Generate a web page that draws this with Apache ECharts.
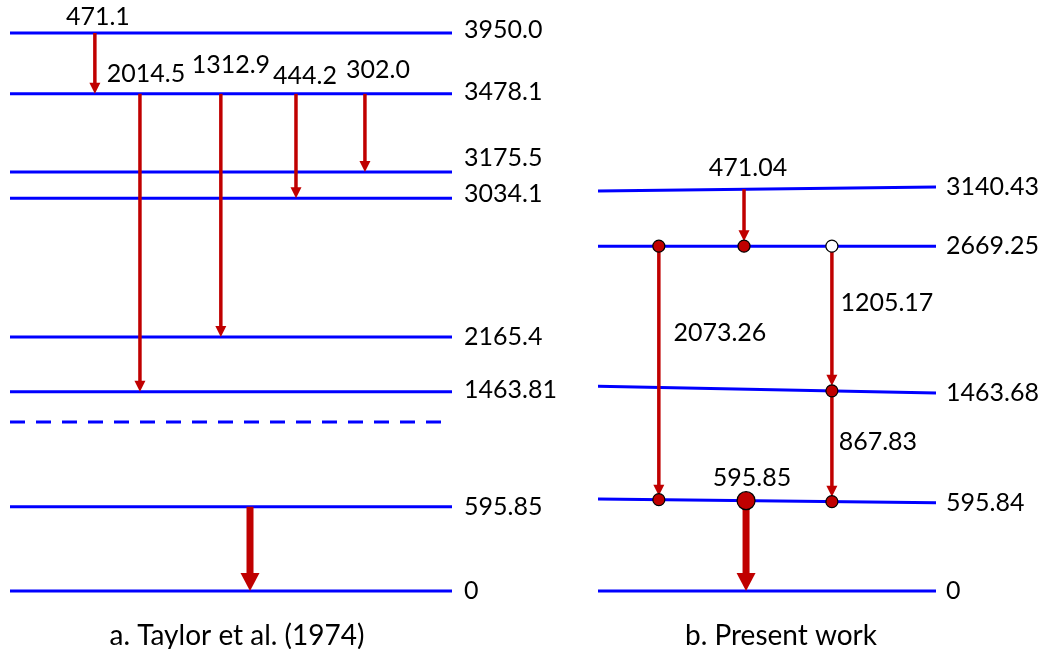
<!DOCTYPE html>
<html>
<head>
<meta charset="utf-8">
<title>Level schemes</title>
<script src="https://cdn.jsdelivr.net/npm/echarts@6/dist/echarts.min.js"></script>
<style>
  html, body { margin: 0; padding: 0; background: #fff; }
  #chart { width: 1042px; height: 649px; }
</style>
</head>
<body>
<div id="chart"></div>
<script>
// Heights are schematic positions (0 = ground line, 100 = top line),
// not energies; the energies are the labels.

// a. Taylor et al. (1974)
const levelsA = ['3950.0', '3478.1', '3175.5', '3034.1', '2165.4', '1463.81', '595.85', '0'];
const levelsAHeight = [100, 89.1, 75.1, 70.4, 45.5, 35.7, 15.1, 0];
const dashedLevelAHeight = 30.3;
const gammasA = ['471.1', '2014.5', '1312.9', '444.2', '302.0', ''];
const gammasAFrom = [0, 1, 1, 1, 1, 6];   // index into levelsA
const gammasATo = [1, 5, 4, 3, 2, 7];
const gammasAPos = [19.2, 29.4, 47.7, 64.7, 80.3, 54.3];  // along the level, 0..100

// b. Present work (levels slightly tilted: height at left end / right end)
const levelsB = ['3140.43', '2669.25', '1463.68', '595.84', '0'];
const levelsBLeft = [71.7, 61.8, 36.7, 16.5, 0];
const levelsBRight = [72.4, 61.8, 35.5, 15.8, 0];
const gammasB = ['471.04', '2073.26', '1205.17', '867.83', '595.85'];
const gammasBFrom = [0, 1, 1, 2, 3];
const gammasBTo = [1, 3, 2, 3, 4];
const gammasBPos = [43.2, 18.0, 69.2, 69.2, 43.8];
const dotsBLevel = [1, 1, 1, 2, 3, 3, 3];
const dotsBPos = [18.0, 43.2, 69.2, 69.2, 18.0, 43.8, 69.2];
const dotsBKind = ['filled', 'filled', 'open', 'filled', 'filled', 'main', 'filled'];

// ---- styles ----
const BLUE = '#0000ff';
const RED = '#c00000';
const FONT_FAMILY = 'Lato, "Open Sans", sans-serif';
const FONT = '25px ' + FONT_FAMILY;
// vertical nudge (px) of the energy labels, so 3175.5 / 3034.1 don't collide
const levelLabelShiftA = [-3, -2, -14, -4, 0, -2, 0, 0, 0];
const levelLabelShiftB = [0, 0, 0, 0, 0];
// label offsets (px) from the start point of each arrow
const labelOffsetA = [[3, -16], [6, -20], [10, -29], [9, -18], [13, -24], [0, 0]];
const labelOffsetB = [[4, -21], [61, 87], [55, 57], [46, 51], [6, -23]];
const thickA = [false, false, false, false, false, true];
const thickB = [false, false, false, false, true];
const tipGapB = [5, 4, 5, 5, 0];   // arrows stopping on a dot

const chart = echarts.init(document.getElementById('chart'));

function heightB(level, pos) {
    return levelsBLeft[level] + (levelsBRight[level] - levelsBLeft[level]) * pos / 100;
}

// level lines with energy label on the right
function levelSeries(axis, left, right, labels, dashed, labelGap, labelShift) {
    return {
        type: 'custom',
        xAxisIndex: axis,
        yAxisIndex: axis,
        z: 1,
        silent: true,
        data: left.map((h, i) => [h, right[i]]),
        renderItem: (params, api) => {
            const i = params.dataIndex;
            const p1 = api.coord([0, api.value(0)]);
            const p2 = api.coord([100, api.value(1)]);
            const children = [{
                type: 'line',
                shape: { x1: p1[0], y1: p1[1], x2: p2[0], y2: p2[1] },
                style: { stroke: BLUE, lineWidth: 3, lineDash: dashed[i] ? [15, 11] : null }
            }];
            if (labels[i]) {
                children.push({
                    type: 'text',
                    x: p2[0] + labelGap,
                    y: p2[1] + labelShift[i],
                    style: { text: labels[i], font: FONT, fill: '#000', align: 'left', verticalAlign: 'middle' }
                });
            }
            return { type: 'group', children };
        }
    };
}

// gamma transitions as downward arrows
function arrowSeries(axis, items, labels, offsets, thick, tipGap) {
    return {
        type: 'custom',
        xAxisIndex: axis,
        yAxisIndex: axis,
        z: 2,
        silent: true,
        data: items,
        renderItem: (params, api) => {
            const i = params.dataIndex;
            const x = api.value(0);
            const p1 = api.coord([x, api.value(1)]);
            const p2 = api.coord([x, api.value(2)]);
            const tipY = p2[1] - tipGap[i];
            const hw = thick[i] ? 9.5 : 5.5;
            const hl = thick[i] ? 18 : 11;
            const children = [
                {
                    type: 'line',
                    shape: { x1: p1[0], y1: p1[1], x2: p1[0], y2: tipY - hl + 1 },
                    style: { stroke: RED, lineWidth: thick[i] ? 7 : 3.5 }
                },
                {
                    type: 'polygon',
                    shape: { points: [[p2[0] - hw, tipY - hl], [p2[0] + hw, tipY - hl], [p2[0], tipY]] },
                    style: { fill: RED }
                }
            ];
            if (labels[i]) {
                children.push({
                    type: 'text',
                    x: p1[0] + offsets[i][0],
                    y: p1[1] + offsets[i][1],
                    style: { text: labels[i], font: FONT, fill: '#000', align: 'center', verticalAlign: 'middle' }
                });
            }
            return { type: 'group', children };
        }
    };
}

const levelALeft = levelsAHeight.concat([dashedLevelAHeight]);
const levelALabels = levelsA.concat(['']);
const levelADashed = levelsA.map(() => false).concat([true]);

const arrowsA = gammasA.map((g, i) => [gammasAPos[i], levelsAHeight[gammasAFrom[i]], levelsAHeight[gammasATo[i]]]);
const arrowsB = gammasB.map((g, i) => [
    gammasBPos[i],
    heightB(gammasBFrom[i], gammasBPos[i]),
    heightB(gammasBTo[i], gammasBPos[i])
]);

const dotsB = dotsBPos.map((x, i) => ({
    value: [x, heightB(dotsBLevel[i], x)],
    symbolSize: dotsBKind[i] === 'main' ? 18 : 12,
    itemStyle: { color: dotsBKind[i] === 'open' ? '#ffffff' : RED }
}));

const hiddenAxis = { type: 'value', min: 0, max: 100, show: false };
const titleStyle = { fontFamily: FONT_FAMILY, fontSize: 28, fontWeight: 'normal', color: '#000' };

const option = {
    animation: false,
    backgroundColor: '#ffffff',
    title: [
        { text: 'a. Taylor et al. (1974)', left: 232, top: 617, textAlign: 'center', textStyle: titleStyle },
        { text: 'b. Present work', left: 776, top: 617, textAlign: 'center', textStyle: titleStyle }
    ],
    grid: [
        { left: 10, top: 33, width: 442, height: 558 },
        { left: 598, top: 33, width: 338, height: 558 }
    ],
    xAxis: [Object.assign({ gridIndex: 0 }, hiddenAxis), Object.assign({ gridIndex: 1 }, hiddenAxis)],
    yAxis: [Object.assign({ gridIndex: 0 }, hiddenAxis), Object.assign({ gridIndex: 1 }, hiddenAxis)],
    series: [
        levelSeries(0, levelALeft, levelALeft, levelALabels, levelADashed, 12, levelLabelShiftA),
        arrowSeries(0, arrowsA, gammasA, labelOffsetA, thickA, gammasA.map(() => 0)),
        levelSeries(1, levelsBLeft, levelsBRight, levelsB, levelsB.map(() => false), 10, levelLabelShiftB),
        arrowSeries(1, arrowsB, gammasB, labelOffsetB, thickB, tipGapB),
        {
            type: 'scatter',
            xAxisIndex: 1,
            yAxisIndex: 1,
            z: 3,
            silent: true,
            symbol: 'circle',
            itemStyle: { borderColor: '#000000', borderWidth: 1.2, opacity: 1 },
            data: dotsB
        }
    ]
};

chart.setOption(option);
window.addEventListener('resize', () => chart.resize());
</script>
</body>
</html>
